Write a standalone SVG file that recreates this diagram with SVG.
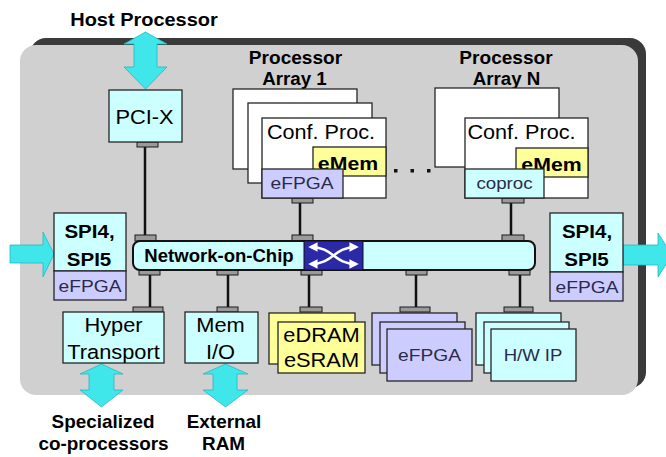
<svg xmlns="http://www.w3.org/2000/svg" width="666" height="457" viewBox="0 0 666 457">
  <style>
    text { font-family: "Liberation Sans", Arial, sans-serif; text-anchor: middle; fill: #000; }
    .hd { font-size: 18px; font-weight: bold; }
    .big { font-size: 19.5px; }
    .bigb { font-size: 19px; font-weight: bold; }
    .sm { font-size: 16px; fill: #2a2a4a; }
    .box { stroke: #262626; stroke-width: 1.3; }
    .white { fill: #ffffff; }
    .cyan { fill: #ccffff; }
    .lav { fill: #ccccff; }
    .yel { fill: #ffff99; }
    .tab { fill: #9a9a9a; stroke: #1a1a1a; stroke-width: 1; }
    .wire { stroke: #111; stroke-width: 2.5; fill: none; }
    .io { fill: #3fe6ea; stroke: #27b8c4; stroke-width: 0.8; }
    .xbar { stroke: #fff; stroke-width: 2.6; fill: none; marker-start: url(#xhead); marker-end: url(#xhead); }
  </style>
  <defs>
    <marker id="xhead" viewBox="0 0 10 10" refX="7" refY="5" markerWidth="3.6" markerHeight="3.6" orient="auto-start-reverse">
      <path d="M0 0 L10 5 L0 10 Z" fill="#ffffff"/>
    </marker>
  </defs>

  <!-- chip die with shadowed edge -->
  <g id="chip">
    <rect x="30" y="38" width="616" height="350" rx="16" fill="#3a3a3a"/>
    <rect x="20" y="45" width="618" height="350" rx="16" fill="#d0d0d0"/>
  </g>

  <!-- external I/O arrows -->
  <g id="io-arrows">
    <path class="io" d="M145.5 32 L167 44 L157 44 L157 67 L167 67 L145.5 89 L124 67 L134 67 L134 44 L124 44 Z"/>
    <path class="io" d="M101.5 364 L123 374 L114 374 L114 390 L123 390 L101.5 407 L80 390 L89 390 L89 374 L80 374 Z"/>
    <path class="io" d="M225.5 364 L248 374 L237 374 L237 390 L248 390 L225.5 407 L203 390 L213 390 L213 374 L203 374 Z"/>
    <path class="io" d="M10 245 L43 245 L43 232 L54 254 L43 277 L43 263 L10 263 Z"/>
    <path class="io" d="M623 245 L658 245 L658 233 L672 255 L658 277 L658 265 L623 265 Z"/>
  </g>

  <!-- connectors -->
  <g id="connectors">
    <line class="wire" x1="145" y1="147" x2="145" y2="235"/>
    <line class="wire" x1="300" y1="203" x2="300" y2="235"/>
    <line class="wire" x1="511" y1="203" x2="511" y2="235"/>
    <line class="wire" x1="150" y1="275" x2="150" y2="307"/>
    <line class="wire" x1="228" y1="275" x2="228" y2="307"/>
    <line class="wire" x1="309" y1="275" x2="309" y2="307"/>
    <line class="wire" x1="416" y1="275" x2="416" y2="307"/>
    <line class="wire" x1="520" y1="275" x2="520" y2="307"/>
    <!-- bus taps -->
    <rect class="tab" x="137" y="142" width="21" height="5"/>
    <rect class="tab" x="292" y="198" width="21" height="5"/>
    <rect class="tab" x="502" y="198" width="22" height="5"/>
    <rect class="tab" x="135" y="235" width="21" height="6"/>
    <rect class="tab" x="292" y="235" width="21" height="6"/>
    <rect class="tab" x="502" y="235" width="22" height="6"/>
    <rect class="tab" x="139" y="270" width="21" height="5"/>
    <rect class="tab" x="217" y="270" width="21" height="5"/>
    <rect class="tab" x="301" y="270" width="21" height="5"/>
    <rect class="tab" x="406" y="270" width="21" height="5"/>
    <rect class="tab" x="509" y="270" width="21" height="5"/>
    <rect class="tab" x="133" y="307" width="30" height="5"/>
    <rect class="tab" x="217" y="307" width="21" height="5"/>
    <rect class="tab" x="300" y="307" width="22" height="5"/>
    <rect class="tab" x="400" y="307" width="30" height="5"/>
    <rect class="tab" x="504" y="307" width="29" height="5"/>
  </g>

  <!-- labels outside the die -->
  <g id="host-label">
    <text class="hd" transform="translate(144 26) scale(1.11 1)">Host Processor</text>
  </g>
  <g id="ext-labels">
    <text class="hd" transform="translate(103 428) scale(1.05 1)">Specialized</text>
    <text class="hd" transform="translate(103.5 450) scale(1.05 1)">co-processors</text>
    <text class="hd" transform="translate(224 428) scale(1.05 1)">External</text>
    <text class="hd" transform="translate(223.5 450) scale(1.05 1)">RAM</text>
  </g>

  <!-- PCI-X -->
  <g id="pcix">
    <rect class="box cyan" x="109" y="90" width="73" height="52"/>
    <text class="big" transform="translate(144.5 124) scale(1.12 1)">PCI-X</text>
  </g>

  <!-- Processor Array 1 -->
  <g id="proc-array-1">
    <text class="hd" transform="translate(295.5 64) scale(1.06 1)">Processor</text>
    <text class="hd" transform="translate(294.5 85) scale(1.04 1)">Array 1</text>
    <rect class="box white" x="233" y="89" width="124" height="80"/>
    <rect class="box white" x="248" y="103" width="124" height="80"/>
    <rect class="box white" x="262" y="118" width="124" height="80"/>
    <text class="big" transform="translate(321 139) scale(1.11 1)">Conf. Proc.</text>
    <rect class="box yel" x="313" y="147" width="73" height="29"/>
    <text class="bigb" transform="translate(348 170) scale(1.12 1)">eMem</text>
    <rect class="box lav" x="262" y="169" width="81" height="29"/>
    <text class="sm" transform="translate(302 189) scale(1.2 1)">eFPGA</text>
  </g>

  <!-- ellipsis between arrays -->
  <g id="ellipsis" fill="#111">
    <rect x="394" y="169" width="3.5" height="3.5"/>
    <rect x="410.5" y="169" width="3.5" height="3.5"/>
    <rect x="427" y="169" width="3.5" height="3.5"/>
  </g>

  <!-- Processor Array N -->
  <g id="proc-array-n">
    <text class="hd" transform="translate(506 64) scale(1.06 1)">Processor</text>
    <text class="hd" transform="translate(506.5 85) scale(1.04 1)">Array N</text>
    <rect class="box white" x="435" y="88" width="124" height="79"/>
    <rect class="box white" x="465" y="118" width="123" height="80"/>
    <text class="big" transform="translate(521.5 139) scale(1.11 1)">Conf. Proc.</text>
    <rect class="box yel" x="516" y="148" width="72" height="29"/>
    <text class="bigb" transform="translate(551.5 171) scale(1.12 1)">eMem</text>
    <rect class="box cyan" x="465" y="169" width="79" height="29"/>
    <text class="sm" transform="translate(504.5 189) scale(1.17 1)">coproc</text>
  </g>

  <!-- SPI4/SPI5 ports -->
  <g id="spi-left">
    <rect class="box cyan" x="54" y="213" width="72" height="58"/>
    <rect class="box lav" x="54" y="271" width="72" height="29"/>
    <text class="bigb" transform="translate(89.5 238) scale(1.08 1)">SPI4,</text>
    <text class="bigb" transform="translate(89 266) scale(1.08 1)">SPI5</text>
    <text class="sm" transform="translate(90 292) scale(1.2 1)">eFPGA</text>
  </g>
  <g id="spi-right">
    <rect class="box cyan" x="550" y="213" width="73" height="59"/>
    <rect class="box lav" x="550" y="272" width="73" height="29"/>
    <text class="bigb" transform="translate(587 238) scale(1.08 1)">SPI4,</text>
    <text class="bigb" transform="translate(586.5 266) scale(1.08 1)">SPI5</text>
    <text class="sm" transform="translate(587 293) scale(1.2 1)">eFPGA</text>
  </g>

  <!-- Network-on-Chip bus with crossbar -->
  <g id="noc">
    <rect x="133" y="241" width="402" height="29" rx="7" fill="#ccffff" stroke="#111" stroke-width="2"/>
    <text class="hd" transform="translate(219 262) scale(1.03 1)">Network-on-Chip</text>
    <rect x="304" y="241" width="59" height="29" fill="#2a2aa8" stroke="#111" stroke-width="1"/>
    <path class="xbar" d="M311 247 C333 247 334 264 356 264"/>
    <path class="xbar" d="M311 264 C333 264 334 247 356 247"/>
  </g>

  <!-- HyperTransport -->
  <g id="hypertransport">
    <rect class="box cyan" x="63" y="312" width="101" height="51"/>
    <text class="big" transform="translate(113.5 332) scale(1.12 1)">Hyper</text>
    <text class="big" transform="translate(113.5 359) scale(1.12 1)">Transport</text>
  </g>

  <!-- Memory I/O -->
  <g id="mem-io">
    <rect class="box cyan" x="185" y="312" width="73" height="51"/>
    <text class="big" transform="translate(220.5 332) scale(1.12 1)">Mem</text>
    <text class="big" transform="translate(220.5 359) scale(1.12 1)">I/O</text>
  </g>

  <!-- embedded memories -->
  <g id="edram">
    <rect class="box yel" x="269" y="313" width="86" height="51"/>
    <rect class="box yel" x="278" y="322" width="87" height="51"/>
    <text class="big" transform="translate(321.5 342) scale(1.12 1)">eDRAM</text>
    <text class="big" transform="translate(321.5 367) scale(1.12 1)">eSRAM</text>
  </g>

  <!-- eFPGA fabric stack -->
  <g id="efpga-stack">
    <rect class="box lav" x="372" y="313" width="85" height="52"/>
    <rect class="box lav" x="380" y="322" width="85" height="51"/>
    <rect class="box lav" x="387" y="329" width="85" height="52"/>
    <text class="sm" transform="translate(429.5 361) scale(1.2 1)">eFPGA</text>
  </g>

  <!-- hardware IP stack -->
  <g id="hw-ip-stack">
    <rect class="box cyan" x="476" y="313" width="85" height="52"/>
    <rect class="box cyan" x="484" y="322" width="85" height="51"/>
    <rect class="box cyan" x="491" y="329" width="85" height="52"/>
    <text class="sm" transform="translate(533 361) scale(1.16 1)">H/W IP</text>
  </g>
</svg>
